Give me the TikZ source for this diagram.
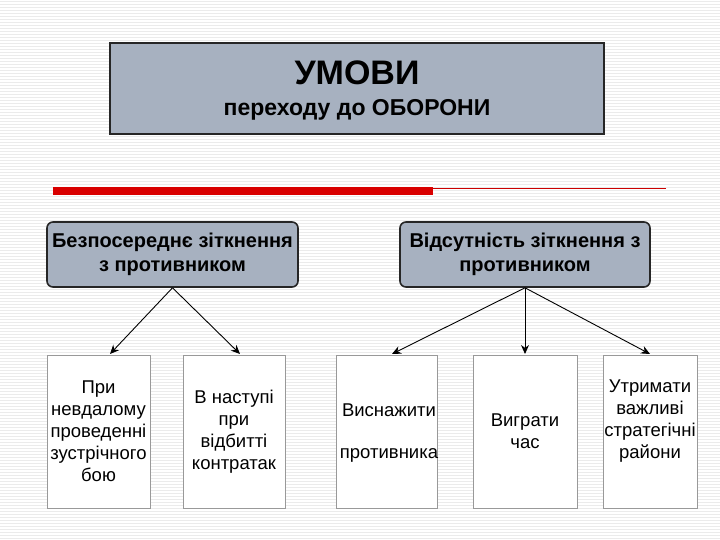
\documentclass[tikz,border=0pt]{standalone}
\usepackage{fontspec}
\setmainfont{Liberation Sans}
\usetikzlibrary{arrows.meta}
\definecolor{boxgray}{HTML}{A7B1C0}
\begin{document}
\begin{tikzpicture}[x=1pt,y=-1pt,
  head/.style={draw=black!85,line width=1.6pt,fill=boxgray,rounded corners=6pt},
  low/.style={draw=black!40,line width=0.6pt,fill=white,align=center,font=\fontsize{18.5}{22}\selectfont,inner sep=1pt},
  arr/.style={-{Stealth[length=9pt,width=8pt]},line width=0.9pt}]
\useasboundingbox (0,0) rectangle (720,540);
\fill[white] (0,0) rectangle (720,540);
\foreach \y in {1,4,...,540} \draw[black!8,line width=0.6pt] (0,\y) -- (720,\y);
\node[draw=black!85,line width=2pt,fill=boxgray,minimum width=494pt,minimum height=91pt] (top) at (357,88.5) {};
\node[font=\bfseries\fontsize{34}{38}\selectfont] (t1) at (357,73) {УМОВИ};
\node[font=\bfseries\fontsize{23}{26}\selectfont] (t2) at (357,110) {переходу до ОБОРОНИ};
\fill[red!85!black] (53,187) rectangle (433,195);
\draw[red!80!black,line width=0.6pt] (433,188) -- (666,188);
\node[head,minimum width=251pt,minimum height=65pt,align=center,font=\bfseries\fontsize{20}{24}\selectfont,inner sep=1pt] (L) at (172.5,254.5) {Безпосереднє зіткнення\\з противником};
\node[head,minimum width=250pt,minimum height=65pt,align=center,font=\bfseries\fontsize{20}{24}\selectfont,inner sep=1pt] (R) at (525,254.5) {Відсутність зіткнення з\\противником};
\node[low,minimum width=103pt,minimum height=153pt] (b1) at (98.5,431.5) {При\\невдалому\\проведенні\\зустрічного\\бою};
\node[low,minimum width=102pt,minimum height=153pt] (b2) at (234,431.5) {В наступі\\при\\відбитті\\контратак};
\node[low,minimum width=101pt,minimum height=153pt] (b3) at (386.5,431.5) {};
\node[font=\fontsize{18.5}{22}\selectfont] (b3a) at (389,410) {Виснажити};
\node[font=\fontsize{18.5}{22}\selectfont] (b3b) at (389,455) {противника};
\node[low,minimum width=104pt,minimum height=153pt] (b4) at (525,431.5) {Виграти\\час};
\node[low,minimum width=94pt,minimum height=153pt] (b5) at (650,431.5) {};
\node[font=\fontsize{18.5}{22}\selectfont,align=center] (b5t) at (650,421) {Утримати\\важливі\\стратегічні\\райони};
\coordinate (a1) at (110,354); \coordinate (a2) at (240,354);
\coordinate (a3) at (392,354); \coordinate (a4) at (525,354); \coordinate (a5) at (650,354);
\foreach \t in {a1,a2} \draw[arr] (L.south) -- (\t);
\foreach \t in {a3,a4,a5} \draw[arr] (R.south) -- (\t);
\end{tikzpicture}
\end{document}
